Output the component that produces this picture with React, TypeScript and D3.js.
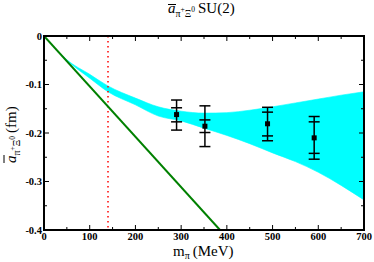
import React from 'react';
import * as d3 from 'd3';

// error band (cyan), mpi in MeV
const bandM = [0, 25, 50, 100, 140, 200, 250, 300, 350, 400, 450, 500, 550, 600, 650, 700];
const bandHi = [0, -0.026, -0.049, -0.079, -0.103, -0.128, -0.146, -0.155, -0.159, -0.158, -0.153, -0.146, -0.138, -0.13, -0.122, -0.115];
const bandLo = [0, -0.026, -0.050, -0.087, -0.115, -0.142, -0.165, -0.175, -0.19, -0.205, -0.222, -0.241, -0.259, -0.281, -0.308, -0.338];

// lattice points
const ptM = [290, 352, 489, 591];
const ptA = [-0.162, -0.186, -0.181, -0.21];
const errInHi = [-0.148, -0.173, -0.157, -0.177];
const errInLo = [-0.177, -0.199, -0.206, -0.242];
const errOutHi = [-0.132, -0.144, -0.147, -0.166];
const errOutLo = [-0.194, -0.228, -0.216, -0.254];

// LO line ends
const loM = [0, 385];
const loA = [0, -0.4];

const physM = 140;
const xTicks = [0, 100, 200, 300, 400, 500, 600, 700];
const yTicks = [0, -0.1, -0.2, -0.3, -0.4];

const W = 374, H = 262;
const m = { left: 44, right: 10, top: 36, bottom: 32 };

const font = '"Liberation Serif", "DejaVu Serif", serif';

const App = () => {
  const x = d3.scaleLinear().domain([0, 700]).range([m.left, W - m.right]);
  const y = d3.scaleLinear().domain([0, -0.4]).range([m.top, H - m.bottom]);

  const band = d3.area<number>()
    .x((_, i) => x(bandM[i]))
    .y0((_, i) => y(bandLo[i]))
    .y1((_, i) => y(bandHi[i]))
    .curve(d3.curveMonotoneX);

  const line = d3.line<number>().x((_, i) => x(loM[i])).y((_, i) => y(loA[i]));

  const xMinor = d3.range(0, 701, 50);
  const yMinor = d3.range(0, 9).map(i => -i * 0.05);
  const x0 = x(0), x1 = x(700), y0 = y(0), y1 = y(-0.4);

  return (
    <svg width={W} height={H} style={{ position: 'absolute', left: 0, top: 0, background: '#fff' }}>
      <defs>
        <clipPath id="plot"><rect x={x0} y={y0} width={x1 - x0} height={y1 - y0} /></clipPath>
      </defs>
      <g clipPath="url(#plot)">
        <path d={band(bandM) || ''} fill="#00ffff" stroke="#00ffff" strokeWidth={0.6} />
        <line x1={x(physM)} x2={x(physM)} y1={y0} y2={y1} stroke="#ff0000" strokeWidth={1.5} strokeDasharray="1.5,3.5" />
        <path d={line(loM) || ''} fill="none" stroke="#008000" strokeWidth={2} />
      </g>

      {ptM.map((v, i) => (
        <g key={i} stroke="#000" strokeWidth={1.5}>
          <line x1={x(v)} x2={x(v)} y1={y(errOutHi[i])} y2={y(errOutLo[i])} />
          {[errOutHi[i], errOutLo[i], errInHi[i], errInLo[i]].map((e, j) => (
            <line key={j} x1={x(v) - 5.5} x2={x(v) + 5.5} y1={y(e)} y2={y(e)} />
          ))}
          <rect x={x(v) - 2.5} y={y(ptA[i]) - 2.5} width={5} height={5} fill="#000" stroke="none" />
        </g>
      ))}

      {xMinor.map(v => {
        const len = v % 100 === 0 ? 5 : 3;
        return (
          <g key={'x' + v} stroke="#000" strokeWidth={1}>
            <line x1={x(v)} x2={x(v)} y1={y1} y2={y1 - len} />
            <line x1={x(v)} x2={x(v)} y1={y0} y2={y0 + len} />
          </g>
        );
      })}
      {yMinor.map((v, i) => {
        const len = i % 2 === 0 ? 5 : 3;
        return (
          <g key={'y' + i} stroke="#000" strokeWidth={1}>
            <line x1={x0} x2={x0 + len} y1={y(v)} y2={y(v)} />
            <line x1={x1} x2={x1 - len} y1={y(v)} y2={y(v)} />
          </g>
        );
      })}
      <rect x={x0} y={y0} width={x1 - x0} height={y1 - y0} fill="none" stroke="#000" strokeWidth={2} />

      <g fontFamily={font} fontWeight="bold" fontSize={10.5} fill="#000">
        {xTicks.map(v => (
          <text key={v} x={x(v)} y={y1 + 10} textAnchor="middle">{v}</text>
        ))}
        {yTicks.map(v => (
          <text key={v} x={x0 - 2} y={y(v) + 3.5} textAnchor="end">{v === 0 ? '0' : v.toFixed(1)}</text>
        ))}
      </g>

      <g fontFamily={font} fill="#000">
        <text x={168} y={13} fontSize={15}>
          <tspan fontStyle="italic">a</tspan>
          <tspan fontSize={10} dy={4}>π</tspan>
          <tspan fontSize={7.5} dy={-5}>+</tspan>
          <tspan fontSize={10} dy={5}>Ξ</tspan>
          <tspan fontSize={7.5} dy={-5}>0</tspan>
          <tspan dy={1} dx={3}>SU(2)</tspan>
        </text>
        <line x1={168} x2={176} y1={4.5} y2={4.5} stroke="#000" strokeWidth={1} />

        <text x={173} y={256} fontSize={15}>
          m<tspan fontSize={10} dy={3}>π</tspan>
          <tspan dy={-3} dx={3}>(MeV)</tspan>
        </text>

        <g transform="translate(16,163) rotate(-90)">
          <text x={0} y={0} fontSize={15}>
            <tspan fontStyle="italic">a</tspan>
            <tspan fontSize={10} dy={4}>π</tspan>
            <tspan fontSize={7.5} dy={-5}>+</tspan>
            <tspan fontSize={10} dy={5}>Ξ</tspan>
            <tspan fontSize={7.5} dy={-5}>0</tspan>
            <tspan dy={1} dx={3}>(fm)</tspan>
          </text>
          <line x1={0} x2={8} y1={-12} y2={-12} stroke="#000" strokeWidth={1} />
        </g>
      </g>
    </svg>
  );
};

export default App;
